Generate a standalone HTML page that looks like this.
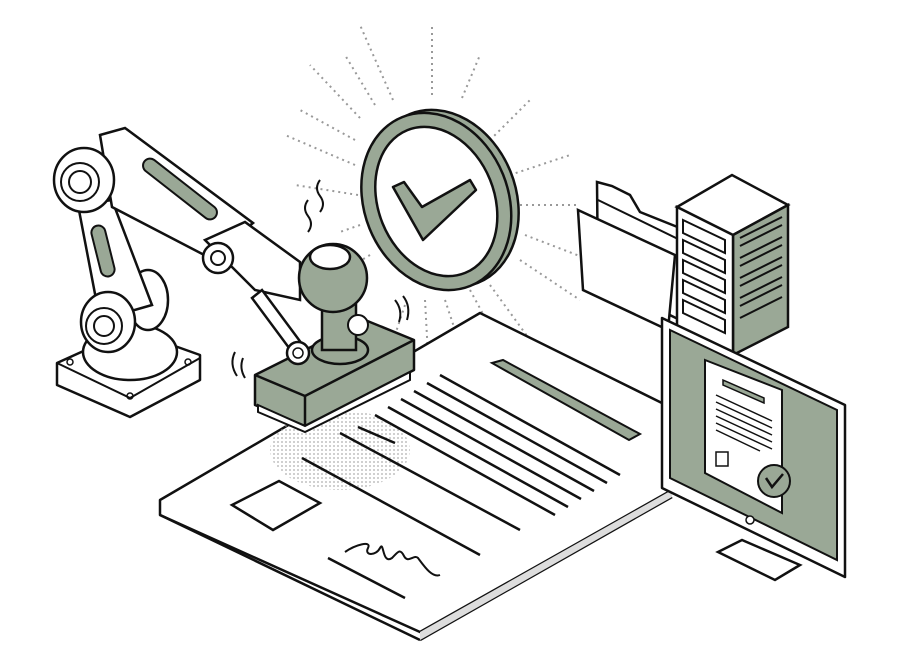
<!DOCTYPE html>
<html><head><meta charset="utf-8"><style>html,body{margin:0;padding:0;background:#fff}svg{display:block}</style></head>
<body>
<svg width="900" height="669" viewBox="0 0 900 669" xmlns="http://www.w3.org/2000/svg" font-family="Liberation Sans, sans-serif">
<defs>
<pattern id="dots" width="4" height="4" patternUnits="userSpaceOnUse"><circle cx="2" cy="2" r="0.9" fill="#999"/></pattern>
</defs>
<g stroke="#999" stroke-width="2" stroke-dasharray="2 4" fill="none">
<line x1="393" y1="100" x2="360" y2="25"/><line x1="432" y1="95" x2="432" y2="25"/>
<line x1="462" y1="98" x2="480" y2="55"/><line x1="490" y1="140" x2="530" y2="100"/>
<line x1="510" y1="175" x2="570" y2="155"/><line x1="520" y1="205" x2="580" y2="205"/>
<line x1="525" y1="235" x2="590" y2="260"/><line x1="520" y1="260" x2="580" y2="300"/>
<line x1="375" y1="105" x2="345" y2="55"/><line x1="360" y1="118" x2="310" y2="65"/>
<line x1="355" y1="140" x2="300" y2="110"/><line x1="355" y1="165" x2="285" y2="135"/>
<line x1="358" y1="195" x2="295" y2="185"/><line x1="360" y1="225" x2="340" y2="232"/>
<line x1="405" y1="305" x2="395" y2="335"/><line x1="425" y1="300" x2="428" y2="355"/>
<line x1="445" y1="300" x2="460" y2="345"/><line x1="470" y1="290" x2="500" y2="345"/>
<line x1="490" y1="285" x2="530" y2="340"/><line x1="370" y1="255" x2="345" y2="270"/>
</g>
<!-- document -->
<polygon points="160,500 480,313 672,408 672,490 420,632 160,515" fill="#fff" stroke="#111" stroke-width="2.5" stroke-linejoin="round"/>
<line x1="160" y1="515" x2="420" y2="640" stroke="#111" stroke-width="2.5"/>
<line x1="420" y1="640" x2="672" y2="497" stroke="#111" stroke-width="2.5"/>
<polygon points="420,632 672,490 672,497 420,640" fill="#ddd"/>
<ellipse cx="340" cy="450" rx="70" ry="40" fill="url(#dots)" opacity="0.8"/>
<polygon points="492,363 503,360 640,434 629,440" fill="#9aa896" stroke="#111" stroke-width="2"/>
<g stroke="#111" stroke-width="2.5">
<line x1="440" y1="375" x2="620" y2="475"/><line x1="427" y1="383" x2="607" y2="483"/>
<line x1="414" y1="391" x2="594" y2="491"/><line x1="401" y1="399" x2="581" y2="499"/>
<line x1="388" y1="407" x2="568" y2="507"/><line x1="375" y1="415" x2="555" y2="515"/>
<line x1="358" y1="427" x2="395" y2="443"/><line x1="340" y1="433" x2="520" y2="530"/>
<line x1="302" y1="458" x2="480" y2="555"/><line x1="328" y1="558" x2="405" y2="598"/>
</g>
<polygon points="232,505 279,481 320,503 273,530" fill="#fff" stroke="#111" stroke-width="2.5"/>
<path d="M345,552 C355,545 372,540 368,548 C364,556 376,556 380,548 C384,540 382,565 392,558 C398,552 400,548 404,556 C408,564 414,554 418,558 C424,566 432,578 440,575" fill="none" stroke="#111" stroke-width="2"/>
<!-- ring -->
<g transform="rotate(-22 440 200)">
<ellipse cx="444" cy="200" rx="72" ry="91" fill="#9aa896" stroke="#111" stroke-width="2.5"/>
<ellipse cx="436" cy="200" rx="72" ry="91" fill="#9aa896" stroke="#111" stroke-width="2.5"/>
<ellipse cx="436" cy="200" rx="58" ry="77" fill="#fff" stroke="#111" stroke-width="2.5"/>
</g>
<polygon points="393,187 404,182 422,207 470,180 476,190 423,240" fill="#9aa896" stroke="#111" stroke-width="2.5" stroke-linejoin="round"/>
<!-- folder -->
<polygon points="597,182 612,186 630,195 640,212 690,232 680,320 598,280" fill="#fff" stroke="#111" stroke-width="2.5"/>
<polygon points="578,210 675,255 668,330 583,290" fill="#fff" stroke="#111" stroke-width="2.5"/>
<polyline points="598,200 680,240 678,320" fill="none" stroke="#111" stroke-width="2"/>
<!-- server -->
<polygon points="677,207 732,175 788,205 733,235" fill="#fff" stroke="#111" stroke-width="2.5"/>
<polygon points="733,235 788,205 788,327 733,355" fill="#9aa896" stroke="#111" stroke-width="2.5"/>
<polygon points="677,207 733,235 733,355 677,330" fill="#fff" stroke="#111" stroke-width="2.5"/>
<g stroke="#111" stroke-width="2">
<g fill="#fff"><polygon points="683,220 725,240 725,253 683,233"/><polygon points="683,240 725,260 725,273 683,253"/><polygon points="683,260 725,280 725,293 683,273"/><polygon points="683,280 725,300 725,313 683,293"/><polygon points="683,300 725,320 725,333 683,313"/></g>
<line x1="740" y1="238" x2="782" y2="217"/><line x1="740" y1="246" x2="782" y2="225"/><line x1="740" y1="258" x2="782" y2="237"/><line x1="740" y1="266" x2="782" y2="245"/><line x1="740" y1="278" x2="782" y2="257"/><line x1="740" y1="286" x2="782" y2="265"/><line x1="740" y1="298" x2="782" y2="277"/><line x1="740" y1="306" x2="782" y2="285"/><line x1="740" y1="318" x2="782" y2="297"/>
</g>
<!-- monitor -->
<polygon points="718,552 742,540 800,565 775,580" fill="#fff" stroke="#111" stroke-width="2.5"/>
<polygon points="662,318 845,405 845,577 662,488" fill="#fff" stroke="#111" stroke-width="2.5" stroke-linejoin="round"/>
<polygon points="670,330 837,410 837,560 670,478" fill="#9aa896" stroke="#111" stroke-width="2"/>
<polygon points="705,360 782,390 782,513 705,473" fill="#fff" stroke="#111" stroke-width="2"/>
<polygon points="723,380 764,398 764,403 723,385" fill="#9aa896" stroke="#111" stroke-width="1.5"/>
<g stroke="#111" stroke-width="1.5"><line x1="716" y1="395" x2="772" y2="421"/><line x1="716" y1="402" x2="772" y2="428"/><line x1="716" y1="409" x2="772" y2="435"/><line x1="716" y1="416" x2="772" y2="442"/><line x1="716" y1="423" x2="772" y2="449"/><line x1="716" y1="430" x2="760" y2="451"/></g>
<rect x="716" y="452" width="12" height="14" fill="#fff" stroke="#111" stroke-width="1.5"/>
<circle cx="774" cy="481" r="16" fill="#9aa896" stroke="#111" stroke-width="2"/>
<polyline points="766,478 772,487 783,474" fill="none" stroke="#111" stroke-width="2.5"/>
<circle cx="750" cy="520" r="4" fill="#fff" stroke="#111" stroke-width="1.5"/>
<!-- robot base -->
<polygon points="57,363 130,330 200,355 200,380 130,417 57,385" fill="#fff" stroke="#111" stroke-width="2.5" stroke-linejoin="round"/>
<polyline points="57,363 130,398 200,358" fill="none" stroke="#111" stroke-width="2"/>
<ellipse cx="130" cy="352" rx="47" ry="28" fill="#fff" stroke="#111" stroke-width="2.5"/>
<circle cx="70" cy="362" r="3" fill="none" stroke="#111" stroke-width="1.5"/><circle cx="188" cy="362" r="3" fill="none" stroke="#111" stroke-width="1.5"/><circle cx="130" cy="396" r="3" fill="none" stroke="#111" stroke-width="1.5"/>
<ellipse cx="148" cy="300" rx="20" ry="30" fill="#fff" stroke="#111" stroke-width="2.5"/>
<!-- lower arm -->
<polygon points="78,205 112,200 152,305 100,320" fill="#fff" stroke="#111" stroke-width="2.5"/>
<rect x="96" y="225" width="14" height="52" rx="7" fill="#9aa896" stroke="#111" stroke-width="2" transform="rotate(-14 103 251)"/>
<ellipse cx="108" cy="322" rx="27" ry="30" fill="#fff" stroke="#111" stroke-width="2.5"/>
<circle cx="104" cy="326" r="18" fill="#fff" stroke="#111" stroke-width="2"/><circle cx="104" cy="326" r="10" fill="#fff" stroke="#111" stroke-width="2"/>
<!-- upper arm -->
<polygon points="100,135 125,128 253,223 210,258 112,207" fill="#fff" stroke="#111" stroke-width="2.5"/>
<rect x="135" y="182" width="90" height="14" rx="7" fill="#9aa896" stroke="#111" stroke-width="2" transform="rotate(38 180 189)"/>
<ellipse cx="84" cy="180" rx="30" ry="32" fill="#fff" stroke="#111" stroke-width="2.5"/>
<circle cx="80" cy="182" r="19" fill="#fff" stroke="#111" stroke-width="2"/><circle cx="80" cy="182" r="11" fill="#fff" stroke="#111" stroke-width="2"/>
<!-- wrist -->
<polygon points="205,240 245,222 300,262 300,300 255,290" fill="#fff" stroke="#111" stroke-width="2.5"/>
<circle cx="218" cy="258" r="15" fill="#fff" stroke="#111" stroke-width="2.5"/><circle cx="218" cy="258" r="7" fill="#fff" stroke="#111" stroke-width="2"/>
<polygon points="252,298 262,290 305,348 295,356" fill="#fff" stroke="#111" stroke-width="2.5"/>
<!-- stamp -->
<polygon points="255,375 365,320 414,340 414,370 305,426 255,405" fill="#9aa896" stroke="#111" stroke-width="2.5" stroke-linejoin="round"/>
<polyline points="255,375 305,396 414,340" fill="none" stroke="#111" stroke-width="2.5"/>
<line x1="305" y1="396" x2="305" y2="426" stroke="#111" stroke-width="2.5"/>
<polygon points="258,405 305,426 410,372 410,380 305,432 258,412" fill="#fff" stroke="#111" stroke-width="2"/>
<ellipse cx="340" cy="350" rx="28" ry="14" fill="#9aa896" stroke="#111" stroke-width="2.5"/>
<rect x="322" y="300" width="34" height="50" fill="#9aa896" stroke="#111" stroke-width="2.5"/>
<circle cx="358" cy="325" r="10" fill="#fff" stroke="#111" stroke-width="2"/>
<circle cx="333" cy="278" r="34" fill="#9aa896" stroke="#111" stroke-width="2.5"/>
<ellipse cx="330" cy="257" rx="20" ry="12" fill="#fff" stroke="#111" stroke-width="2.5"/>
<circle cx="298" cy="353" r="11" fill="#fff" stroke="#111" stroke-width="2.5"/><circle cx="298" cy="353" r="5" fill="#fff" stroke="#111" stroke-width="1.5"/>
<g fill="none" stroke="#111" stroke-width="2">
<path d="M320,180 q-6,8 0,16 q6,8 0,16"/><path d="M308,200 q-6,8 0,16 q6,8 0,16"/>
<path d="M395,300 q8,10 4,22"/><path d="M403,296 q8,10 4,24"/>
<path d="M235,352 q-6,12 2,24"/><path d="M243,358 q-4,10 2,20"/>
</g>
</svg>
</body></html>
